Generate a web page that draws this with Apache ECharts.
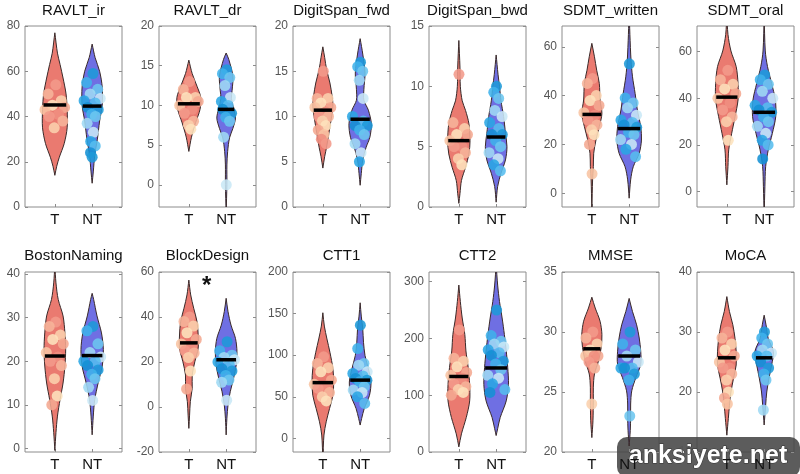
<!DOCTYPE html>
<html>
<head>
<meta charset="utf-8">
<script src="https://cdn.jsdelivr.net/npm/echarts@6/dist/echarts.min.js"></script>
<style>
  html, body { margin: 0; background: #fff; }
  #chart { width: 800px; height: 474px; }
</style>
</head>
<body>
<div id="chart"></div>
<script>
// panel titles and groups
const titles = ['RAVLT_ir', 'RAVLT_dr', 'DigitSpan_fwd', 'DigitSpan_bwd', 'SDMT_written', 'SDMT_oral',
  'BostonNaming', 'BlockDesign', 'CTT1', 'CTT2', 'MMSE', 'MoCA'];
const groups = ['T', 'NT'];

// y axis ranges + tick labels
const yMin = [0, -2.8, 0, 0, -5.6, -6.6, -0.85, -20, -16.4, 0, 20, 10];
const yMax = [80, 20, 20, 15, 68.5, 71, 40.5, 60, 200, 317, 35, 40];
const yTicks = [
  [0, 20, 40, 60, 80], [0, 5, 10, 15, 20], [0, 5, 10, 15, 20], [0, 5, 10, 15],
  [0, 20, 40, 60], [0, 20, 40, 60], [0, 10, 20, 30, 40], [-20, 0, 20, 40, 60],
  [0, 50, 100, 150, 200], [0, 100, 200, 300], [20, 25, 30, 35], [10, 20, 30, 40]
];

// individual scores
const tValues = [
  [54, 50, 47, 45, 44, 43, 41, 40, 38, 35],
  [13, 12, 11, 11, 10.5, 10, 9.5, 9, 8, 7.5, 7],
  [15, 12, 12, 11.5, 11, 11, 10.5, 10, 10, 9.5, 9, 8.5, 8, 7.5, 7],
  [11, 7, 6.5, 6, 6, 5.5, 5, 5, 4.5, 4, 3.5],
  [47, 45, 40, 38, 36, 33, 32, 30, 28, 26, 24, 20, 8],
  [52, 48, 46, 44, 42, 40, 38, 35, 32, 30, 22],
  [29, 28, 26, 25, 24, 22, 21, 20, 19, 16, 12, 10],
  [40, 38, 36, 33, 30, 28, 27, 25, 24, 22, 16, 8],
  [98, 90, 85, 80, 70, 65, 63, 60, 55, 50, 45],
  [215, 165, 160, 150, 140, 135, 130, 120, 115, 110, 105, 100],
  [30, 29.5, 29, 28.5, 28, 28, 28, 27.5, 27, 24],
  [30, 29, 28, 27, 26, 25, 24, 24, 23, 22, 20, 19, 18]
];
const ntValues = [
  [59, 55, 52, 50, 48, 47, 46, 44, 43, 41, 40, 37, 33, 29, 27, 24, 22],
  [14.5, 14, 13.5, 12.5, 11, 10.5, 10, 9.5, 9, 8.5, 8, 6, 0],
  [16, 15.5, 15, 14, 12, 10, 9.5, 9, 9, 8.5, 8, 7, 6, 5],
  [10, 9.5, 9, 8, 7.5, 7, 6.5, 6, 6, 5.5, 5, 4.5, 4, 3.5, 3],
  [53, 39, 37, 35, 32, 30, 29, 28, 27, 25, 24, 22, 20, 18, 15],
  [50, 48, 46, 43, 40, 37, 36, 35, 34, 32, 30, 28, 25, 22, 20, 14],
  [28, 27, 24, 22, 21, 20, 20, 19, 18, 17, 16, 14, 11],
  [29, 25, 23, 22, 21, 20, 19, 17, 16, 14, 12, 11, 3],
  [136, 108, 90, 88, 80, 78, 75, 72, 70, 68, 62, 58, 55, 50, 42],
  [250, 205, 195, 190, 185, 180, 175, 170, 160, 155, 145, 135, 130, 120, 110, 105],
  [30, 29, 28.5, 28, 27.5, 27, 27, 27, 26.5, 26, 23],
  [30, 29, 28, 27, 26.5, 26, 26, 25, 24, 23, 22, 17]
];

// medians
const tMedian = [45.1, 10.2, 10.7, 5.5, 32.3, 40.5, 21.2, 28.5, 67, 133, 28.6, 25.7];
const ntMedian = [44.6, 9.5, 9.7, 5.8, 26.5, 34, 21.3, 21, 70, 148, 28, 25.7];

// violin outlines: [value, half width] from bottom tip to top tip
const tShape = [
  [[14, 0], [18, 0.05], [22, 0.12], [28, 0.25], [35, 0.33], [43, 0.33], [50, 0.3], [57, 0.22], [63, 0.14], [68, 0.07], [77, 0]],
  [[4.2, 0], [6, 0.07], [7.8, 0.18], [9.5, 0.3], [11, 0.32], [12.4, 0.22], [14, 0.09], [15.7, 0]],
  [[4.3, 0], [5.6, 0.05], [6.6, 0.1], [8.1, 0.16], [9.6, 0.22], [11.1, 0.27], [12.2, 0.25], [13.7, 0.19], [15.2, 0.1], [16.5, 0.05], [17.7, 0]],
  [[0.3, 0], [1.1, 0.03], [2.2, 0.07], [3.3, 0.18], [4.4, 0.27], [5.5, 0.3], [6.9, 0.27], [8, 0.18], [8.8, 0.09], [10, 0.04], [11.6, 0.03], [13.8, 0]],
  [[-8, 0], [0, 0.01], [5.5, 0.02], [10.9, 0.04], [16.4, 0.05], [21.8, 0.11], [27.3, 0.2], [32.7, 0.27], [38.2, 0.22], [45, 0.2], [50.4, 0.13], [55.9, 0.07], [61.4, 0]],
  [[2.9, 0], [10.7, 0.03], [17.9, 0.05], [25, 0.13], [32.1, 0.22], [39.3, 0.3], [46.4, 0.3], [53.6, 0.25], [60.3, 0.11], [67.4, 0.03], [76, 0]],
  [[-0.5, 0], [3.6, 0.03], [7.4, 0.07], [11.2, 0.14], [15, 0.22], [18.9, 0.27], [22.7, 0.29], [26.5, 0.27], [30.4, 0.22], [34.2, 0.09], [38, 0.03], [42, 0]],
  [[-9.5, 0], [-3.6, 0.02], [2.4, 0.04], [8.3, 0.09], [14.2, 0.09], [20.1, 0.16], [26.1, 0.25], [32, 0.25], [37.9, 0.22], [43.9, 0.13], [49.8, 0.05], [56.4, 0]],
  [[-25, 0], [4, 0.03], [19.9, 0.09], [35.9, 0.18], [51.8, 0.27], [67.7, 0.29], [83.7, 0.27], [103.5, 0.19], [119.5, 0.11], [135, 0.04], [151, 0]],
  [[9, 0], [32, 0.07], [61, 0.2], [90, 0.29], [119, 0.29], [149, 0.25], [178, 0.19], [207, 0.16], [236, 0.09], [265, 0.04], [294, 0]],
  [[21.2, 0], [22.6, 0.03], [24.3, 0.04], [25.4, 0.04], [26.5, 0.07], [27.6, 0.18], [28.7, 0.25], [29.8, 0.27], [30.9, 0.22], [32, 0.09], [32.9, 0]],
  [[12.8, 0], [15.6, 0.04], [17.8, 0.07], [20, 0.11], [22.3, 0.18], [24.5, 0.25], [26.7, 0.25], [28.9, 0.22], [31.2, 0.16], [33.4, 0.07], [35.9, 0]]
];
const ntShape = [
  [[10.5, 0], [15.5, 0.03], [23, 0.07], [30, 0.14], [38, 0.2], [45, 0.27], [53, 0.27], [60, 0.2], [66, 0.08], [72, 0]],
  [[-3.5, 0], [0, 0.02], [2.5, 0.02], [4.2, 0.04], [5.9, 0.09], [7.1, 0.18], [8.4, 0.25], [9.6, 0.2], [10.9, 0.14], [11.9, 0.16], [13.7, 0.18], [15.8, 0.07], [16.6, 0]],
  [[2.4, 0], [3.7, 0.03], [5.2, 0.07], [6.6, 0.16], [7.7, 0.26], [9.2, 0.3], [10.7, 0.22], [11.8, 0.1], [13, 0.1], [14.8, 0.13], [16.9, 0.07], [18.6, 0]],
  [[0.4, 0], [1.7, 0.04], [2.8, 0.13], [3.9, 0.25], [5, 0.29], [6.1, 0.25], [7.5, 0.2], [8.8, 0.13], [10, 0.09], [11, 0.05], [12.6, 0]],
  [[-2, 0], [5.5, 0.04], [10.9, 0.11], [16.4, 0.27], [21.8, 0.33], [27.3, 0.31], [34.1, 0.22], [40.9, 0.16], [47.7, 0.09], [54.5, 0.05], [65, 0.02], [75, 0]],
  [[-10, 0], [2.1, 0.02], [10.7, 0.04], [17.9, 0.11], [25, 0.22], [32.1, 0.31], [39.3, 0.3], [46.4, 0.2], [53.6, 0.09], [60.3, 0.03], [75, 0]],
  [[3.1, 0], [7.4, 0.03], [11.2, 0.07], [15, 0.16], [18.9, 0.27], [22.7, 0.3], [26.5, 0.25], [30.4, 0.13], [34.2, 0.04], [35.6, 0]],
  [[-12.4, 0], [-5, 0.02], [0.9, 0.05], [6.8, 0.11], [12.8, 0.2], [18.7, 0.27], [24.6, 0.29], [30.5, 0.25], [36.4, 0.13], [42.4, 0.05], [48.3, 0]],
  [[16, 0], [23.9, 0.04], [35.9, 0.11], [51.8, 0.25], [67.7, 0.29], [83.7, 0.22], [99.6, 0.13], [115.5, 0.09], [131.5, 0.07], [147, 0.03], [163, 0]],
  [[29, 0], [41, 0.04], [61, 0.11], [90, 0.27], [119, 0.33], [149, 0.31], [178, 0.27], [207, 0.22], [236, 0.16], [265, 0.09], [294, 0.04], [330, 0]],
  [[20.5, 0], [21.8, 0.03], [22.9, 0.04], [24, 0.04], [25.1, 0.07], [26.2, 0.18], [27.3, 0.31], [28.4, 0.31], [29.5, 0.27], [30.6, 0.2], [31.7, 0.09], [32.8, 0]],
  [[14.5, 0], [17.8, 0.04], [20, 0.07], [22.3, 0.13], [24.5, 0.2], [26.7, 0.25], [28.9, 0.11], [31.2, 0.05], [32.8, 0]]
];

const chart = echarts.init(document.getElementById('chart'));

const lefts = [25, 159, 293, 429, 562, 697];
const tops = [26, 272];
const heights = [181, 180];
const panelW = 97;
const font = '"Liberation Sans", Arial, sans-serif';

// spread of dots inside the violin (fraction of local width)
const jitter = [0.1, -0.6, 0.55, -0.2, 0.8, -0.8, 0.3, -0.45, 0.65, -0.05, 0.4, -0.7, 0.2, -0.3, 0.75, -0.55, 0];
const tColors = ['#f29a8a', '#f6b49a', '#fbd0ad', '#fde2bd', '#f4a891', '#f8c4a3', '#ef8e80'];
const ntColors = ['#1e9ad8', '#3fb2ea', '#6cc6ef', '#9fd9f4', '#c9e8f6', '#2aa6e4', '#57bdee', '#1591d4'];

function widthAt(shape, v) {
  if (v <= shape[0][0] || v >= shape[shape.length - 1][0]) return 0;
  for (let k = 1; k < shape.length; k++) {
    if (v <= shape[k][0]) {
      const [v0, w0] = shape[k - 1], [v1, w1] = shape[k];
      return w0 + (w1 - w0) * (v - v0) / (v1 - v0);
    }
  }
  return 0;
}

const grid = [], xAxis = [], yAxis = [], title = [], series = [];

titles.forEach((name, i) => {
  const row = i < 6 ? 0 : 1, col = i % 6;
  grid.push({
    left: lefts[col], top: tops[row], width: panelW, height: heights[row],
    show: true, borderColor: '#8c8c8c', borderWidth: 1, backgroundColor: '#fff',
    containLabel: false, outerBoundsMode: 'none'
  });
  title.push({
    text: name, left: lefts[col] + panelW / 2, top: row ? 248 : 3, textAlign: 'center', padding: 0,
    textStyle: { fontFamily: font, fontSize: 15, fontWeight: 'normal', color: '#111' }
  });
  xAxis.push({
    gridIndex: i, type: 'value', min: 0.2, max: 2.8, position: 'bottom',
    axisLine: { show: false, onZero: false }, splitLine: { show: false },
    axisTick: { show: true, inside: true, length: 3, customValues: [1, 2], lineStyle: { color: '#8c8c8c' } },
    axisLabel: { customValues: [1, 2], formatter: v => groups[Math.round(v) - 1], color: '#111', fontSize: 15, fontFamily: font, margin: 5 }
  });
  const yBase = {
    gridIndex: i, type: 'value', min: yMin[i], max: yMax[i],
    axisLine: { show: false, onZero: false }, splitLine: { show: false },
    axisTick: { show: true, inside: true, length: 3, customValues: yTicks[i], lineStyle: { color: '#8c8c8c' } }
  };
  yAxis.push(Object.assign({}, yBase, {
    position: 'left',
    axisLabel: { customValues: yTicks[i], color: '#555', fontSize: 12, fontFamily: font, margin: 5 }
  }));
  yAxis.push(Object.assign({}, yBase, { position: 'right', axisLabel: { show: false } }));

  const violins = [[1, tShape[i], '#ea7a70', tValues[i], tColors, tMedian[i]],
                   [2, ntShape[i], '#6f6fe3', ntValues[i], ntColors, ntMedian[i]]];
  violins.forEach(([center, shape, fill, vals, cols, med]) => {
    series.push({
      type: 'custom', xAxisIndex: i, yAxisIndex: i * 2, clip: true, z: 2, silent: true,
      data: [[center]],
      renderItem: (params, api) => {
        const c = api.value(0);
        const right = shape.map(([v, w]) => api.coord([c + w, v]));
        const left = shape.slice().reverse().map(([v, w]) => api.coord([c - w, v]));
        return {
          type: 'polygon',
          shape: { points: right.concat(left), smooth: 0.3 },
          style: { fill: fill, stroke: '#3a2a2a', lineWidth: 1 }
        };
      }
    });
    series.push({
      type: 'scatter', xAxisIndex: i, yAxisIndex: i * 2, z: 3, symbolSize: 11, silent: true,
      data: vals.map((v, k) => ({
        value: [center + jitter[k % jitter.length] * widthAt(shape, v), v],
        itemStyle: { color: cols[k % cols.length], opacity: 0.88 }
      }))
    });
    series.push({
      type: 'custom', xAxisIndex: i, yAxisIndex: i * 2, z: 4, silent: true,
      data: [[center, med]],
      renderItem: (params, api) => {
        const c = api.value(0), m = api.value(1);
        const hw = Math.max(0.22, widthAt(shape, m) * 0.95);
        const p0 = api.coord([c - hw, m]), p1 = api.coord([c + hw, m]);
        return {
          type: 'line',
          shape: { x1: p0[0], y1: p0[1], x2: p1[0], y2: p1[1] },
          style: { stroke: '#000', lineWidth: 3.5 }
        };
      }
    });
  });
});

chart.setOption({
  animation: false,
  backgroundColor: '#fff',
  title, grid, xAxis, yAxis, series,
  graphic: [
    { type: 'text', left: 202, top: 274, z: 10,
      style: { text: '*', font: 'bold 24px ' + font, fill: '#111' } },
    { type: 'group', left: 617, top: 437, z: 100, children: [
      { type: 'rect', shape: { x: 0, y: 0, width: 183, height: 40, r: 10 },
        style: { fill: 'rgba(70,70,70,0.88)' } },
      { type: 'text', x: 91, y: 19,
        style: { text: 'anksiyete.net', font: 'bold 25px ' + font, fill: '#fff',
          align: 'center', verticalAlign: 'middle', stroke: '#333', lineWidth: 1 } }
    ] }
  ]
});
</script>
</body>
</html>
